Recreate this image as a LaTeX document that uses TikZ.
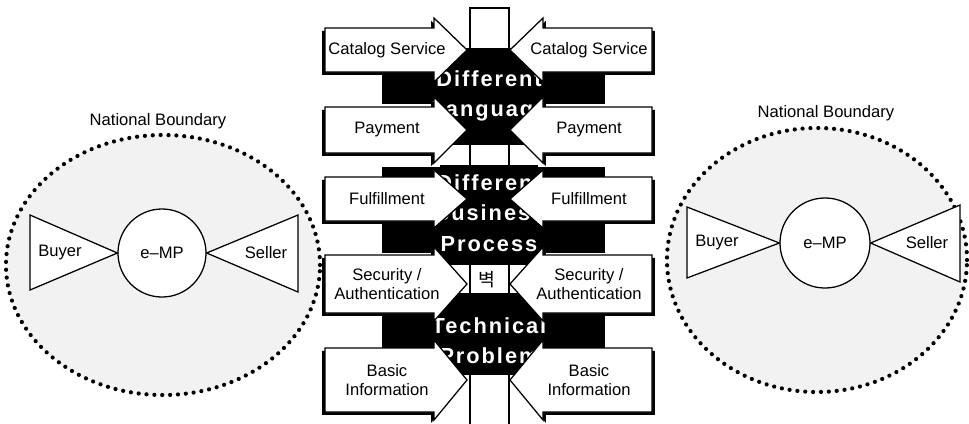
\documentclass[tikz,border=0pt]{standalone}
\usepackage{fontspec}
\setmainfont{Liberation Sans}
\newfontfamily\wallfont[LetterSpace=9]{Liberation Sans Bold}
\newfontfamily\kofont{Noto Sans CJK KR}
\usetikzlibrary{shadows}
\tikzset{
  boundary/.style={line width=3pt, dash pattern=on 0pt off 5.6pt, line cap=round, fill=black!5},
  leftbox/.style={draw, fill=white, line width=0.9pt,
    drop shadow={shadow xshift=-2pt, shadow yshift=-2pt, opacity=1, fill=black}},
  rightbox/.style={draw, fill=white, line width=0.9pt,
    drop shadow={shadow xshift=2pt, shadow yshift=-2pt, opacity=1, fill=black}},
  tag/.style={font=\fontsize{11.8}{14}\selectfont, align=center, inner sep=0pt},
  walltext/.style={text=white, font=\wallfont\fontsize{15.5}{21.5}\selectfont, align=center, inner sep=0pt},
  market/.style={draw, fill=white, circle, line width=0.9pt, minimum size=2.2cm, font=\fontsize{11.8}{14}\selectfont}
}
\begin{document}
\begin{tikzpicture}[x=0.025cm, y=-0.025cm]
\useasboundingbox (0,0) rectangle (969,423);
% left country
\draw[boundary] (163,265) ellipse [x radius=3.925cm, y radius=3.25cm];
\node[tag] (natL) at (158,121) {National Boundary};
\node[market] (empL) at (162,253) {e--MP};
\draw[fill=white, line width=0.9pt] (empL.west) -- (30,215) -- (30,290) -- cycle;
\draw[fill=white, line width=0.9pt] (empL.east) -- (298,215) -- (298,292) -- cycle;
\node[tag] (buyL) at (60,253) {Buyer};
\node[tag] (selL) at (266,253) {Seller};
% right country
\draw[boundary] (817,260) ellipse [x radius=3.75cm, y radius=3.3cm];
\node[tag] (natR) at (826,113) {National Boundary};
\node[market, minimum size=2.25cm] (empR) at (825,243) {e--MP};
\draw[fill=white, line width=0.9pt] (empR.west) -- (687,207) -- (687,278) -- cycle;
\draw[fill=white, line width=0.9pt] (empR.east) -- (960,205) -- (960,282) -- cycle;
\node[tag] (buyR) at (717,243) {Buyer};
\node[tag] (selR) at (927,243) {Seller};
% the wall
\draw[fill=white, line width=0.9pt] (470,8) rectangle (509,440);
\node[font=\kofont\fontsize{13}{15}\selectfont, inner sep=0pt] (wall) at (487,280) {벽};
\fill (440,48) rectangle (538,145);
\fill (382,70) rectangle (605,104);
\fill (440,165) rectangle (538,265);
\fill (382,167) rectangle (605,253);
\fill (440,293) rectangle (538,375);
\fill (382,313) rectangle (605,348);
\node[walltext] (lang) at (489,96) {Different\\Language};
\node[walltext] (proc) at (489,213) {Different\\Business\\Process};
\node[walltext] (tech) at (489,341) {Technical\\Problem};
% arrows from the left
\draw[leftbox] (325,28) -- (434,28) -- (434,18) -- (467,50) -- (434,82) -- (434,72) -- (325,72) -- cycle;
\draw[leftbox] (325,107) -- (434,107) -- (434,97) -- (467,130) -- (434,163) -- (434,153) -- (325,153) -- cycle;
\draw[leftbox] (325,177) -- (434,177) -- (434,170) -- (467,199) -- (434,228) -- (434,221) -- (325,221) -- cycle;
\draw[leftbox] (325,255) -- (434,255) -- (434,247) -- (467,284) -- (434,321) -- (434,313) -- (325,313) -- cycle;
\draw[leftbox] (325,348) -- (434,348) -- (434,340) -- (467,380) -- (434,420) -- (434,412) -- (325,412) -- cycle;
\node[tag] (catL) at (387,50) {Catalog Service};
\node[tag] (payL) at (387,130) {Payment};
\node[tag] (fulL) at (387,199) {Fulfillment};
\node[tag] (secL) at (387,284) {Security /\\Authentication};
\node[tag] (infL) at (387,380) {Basic\\Information};
% arrows from the right
\draw[rightbox] (652,28) -- (543,28) -- (543,18) -- (510,50) -- (543,82) -- (543,72) -- (652,72) -- cycle;
\draw[rightbox] (652,107) -- (543,107) -- (543,97) -- (510,130) -- (543,163) -- (543,153) -- (652,153) -- cycle;
\draw[rightbox] (652,177) -- (543,177) -- (543,170) -- (510,199) -- (543,228) -- (543,221) -- (652,221) -- cycle;
\draw[rightbox] (652,255) -- (543,255) -- (543,247) -- (510,284) -- (543,321) -- (543,313) -- (652,313) -- cycle;
\draw[rightbox] (652,348) -- (543,348) -- (543,340) -- (510,380) -- (543,420) -- (543,412) -- (652,412) -- cycle;
\node[tag] (catR) at (589,50) {Catalog Service};
\node[tag] (payR) at (589,130) {Payment};
\node[tag] (fulR) at (589,199) {Fulfillment};
\node[tag] (secR) at (589,284) {Security /\\Authentication};
\node[tag] (infR) at (589,380) {Basic\\Information};
\end{tikzpicture}
\end{document}
